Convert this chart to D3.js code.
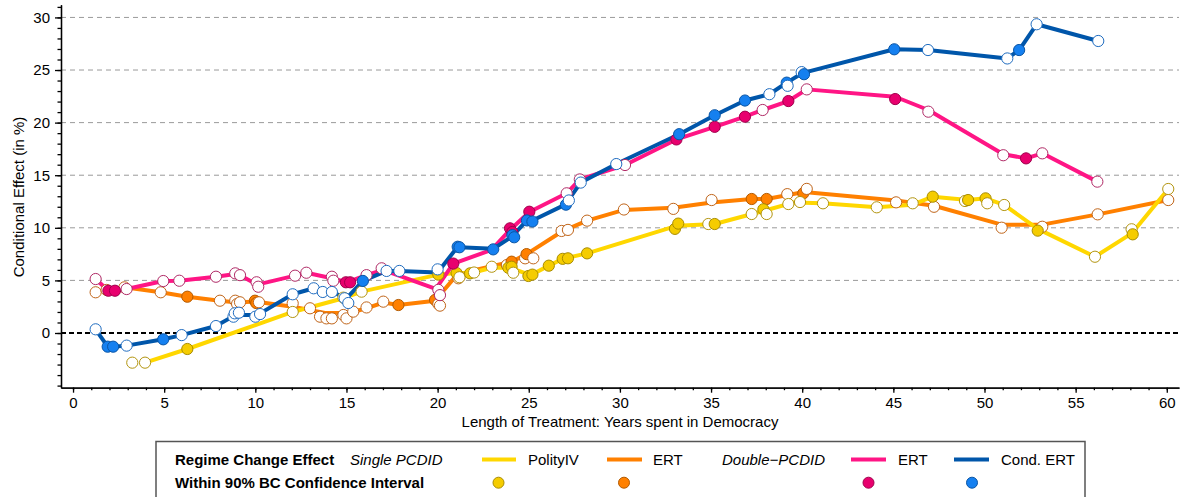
<!DOCTYPE html>
<html><head><meta charset="utf-8">
<script src="https://cdn.jsdelivr.net/npm/d3@7"></script>
<style>
body{margin:0;background:#fff;}
svg{font-family:"Liberation Sans",Arial,Helvetica,sans-serif;}
</style></head><body>
<svg id="c" width="1185" height="497"></svg>
<script>
// ---------- DATA ----------
const xTicks = [0,5,10,15,20,25,30,35,40,45,50,55,60];
const yTicks = [0,5,10,15,20,25,30];
const xLabel = "Length of Treatment: Years spent in Democracy";
const yLabel = "Conditional Effect (in %)";

// PolityIV (Single PCDID) : line vertices and estimates [x, y, withinCI]
const polityLine = [[3.95,-2.82],[6.27,-1.52],[12.05,2.0],[14.88,3.33],[15.83,3.93],[20.04,5.55],[21.04,5.7],[21.85,5.7],[22.97,6.2],[24.0,6.2],[25.1,5.5],[26.1,6.4],[26.86,7.05],[28.2,7.57],[33.15,10.2],[35.2,10.36],[37.87,11.6],[39.5,12.4],[41.12,12.33],[44.09,11.95],[46.06,12.2],[47.16,12.96],[49.1,12.64],[50.06,12.8],[51.08,12.17],[52.92,9.9],[56.06,7.25],[58.1,9.5],[60.08,13.69]];
const polityPts = [[3.25,-2.82,0],[3.95,-2.82,0],[6.27,-1.52,1],[12.05,2.0,0],[14.83,3.36,0],[15.83,3.93,0],[20.04,5.55,1],[21.04,5.7,1],[21.2,5.3,0],[21.78,5.67,1],[22.0,5.75,0],[22.97,6.3,0],[23.88,6.2,1],[24.06,6.3,1],[24.15,5.73,0],[24.98,5.42,1],[25.2,5.55,1],[26.1,6.4,1],[26.86,7.05,1],[27.15,7.1,1],[28.2,7.57,1],[33.02,9.9,1],[33.2,10.4,1],[34.85,10.36,0],[35.2,10.36,1],[37.23,11.31,0],[37.87,11.76,1],[38.05,11.31,0],[39.24,12.26,0],[39.88,12.45,0],[41.14,12.33,0],[44.09,11.95,0],[46.06,12.33,0],[47.16,12.96,1],[48.93,12.55,0],[49.1,12.64,1],[50.06,12.8,1],[50.15,12.33,0],[51.08,12.17,0],[52.92,9.73,1],[56.06,7.25,0],[58.07,9.86,0],[58.13,9.38,1],[60.08,13.69,0]];

// ERT (Single PCDID)
const ertSLine = [[1.84,4.1],[2.82,4.34],[4.81,3.87],[6.27,3.45],[8.06,3.07],[9.0,2.9],[9.98,3.0],[12.05,2.5],[13.82,1.9],[15.2,1.93],[16.1,2.35],[17.02,2.9],[17.85,2.66],[19.86,3.07],[21.04,5.5],[22.3,6.1],[24.06,6.78],[24.88,7.5],[26.8,9.63],[28.2,10.68],[30.22,11.7],[32.93,11.9],[35.03,12.4],[37.23,12.74],[38.05,12.74],[40.1,13.4],[45.15,12.6],[47.23,12.1],[50.94,10.3],[53.17,10.3],[56.21,11.28],[60.08,12.64]];
const ertSPts = [[1.24,3.87,0],[1.84,4.09,0],[2.82,4.34,0],[4.81,3.87,0],[6.27,3.45,1],[8.06,3.07,0],[8.9,3.07,0],[9.0,2.76,0],[9.16,2.92,0],[9.98,3.07,1],[10.05,2.85,1],[10.2,2.92,0],[12.05,2.82,0],[13.0,2.35,0],[13.55,1.55,0],[13.9,1.39,0],[14.2,1.39,0],[14.83,1.71,0],[15.0,1.39,0],[15.37,2.03,0],[16.1,2.43,0],[17.02,2.98,0],[17.85,2.66,1],[19.86,3.14,1],[20.04,2.76,0],[20.13,2.6,0],[21.14,5.2,0],[21.2,5.35,0],[23.8,6.46,0],[24.06,6.78,1],[24.8,7.1,0],[24.88,7.5,1],[25.25,7.1,0],[26.8,9.7,0],[27.15,9.8,0],[28.2,10.68,0],[30.22,11.74,0],[32.93,11.8,0],[35.03,12.64,0],[37.23,12.74,1],[38.05,12.74,1],[39.18,13.2,0],[40.06,13.28,1],[40.25,13.7,0],[45.15,12.42,0],[47.23,12.0,0],[50.94,10.01,0],[53.17,10.1,0],[56.21,11.28,0],[60.08,12.64,0]];

// ERT (Double-PCDID)
const ertDLine = [[1.24,5.13],[1.94,4.02],[2.3,4.02],[2.94,4.18],[4.95,4.94],[5.83,4.97],[7.84,5.35],[8.9,5.6],[9.16,5.5],[10.1,4.6],[12.18,5.45],[12.8,5.73],[14.2,5.2],[15.0,4.82],[16.1,5.5],[17.0,6.0],[19.9,4.2],[20.86,6.6],[22.96,7.9],[23.97,9.8],[25.03,11.5],[27.08,13.28],[27.8,14.6],[30.28,15.97],[33.1,18.4],[35.2,19.6],[36.86,20.56],[37.83,21.2],[39.24,22.05],[40.25,23.16],[45.1,22.46],[46.92,21.2],[51.03,17.0],[52.28,16.6],[53.17,17.08],[56.19,14.39]];
const ertDPts = [[1.24,5.13,0],[1.94,4.02,1],[2.3,4.02,1],[2.94,4.18,0],[4.95,4.94,0],[5.83,4.97,0],[7.84,5.35,0],[8.9,5.67,0],[9.16,5.5,0],[10.07,4.82,0],[10.16,4.4,0],[12.18,5.45,0],[12.8,5.73,0],[14.2,5.35,0],[14.28,4.97,0],[14.97,4.82,1],[15.2,4.82,1],[16.1,5.5,0],[16.93,6.15,0],[20.04,4.1,0],[20.13,3.6,0],[20.86,6.6,1],[23.97,9.95,1],[24.1,9.6,1],[25.03,11.53,1],[27.08,13.28,0],[27.8,14.6,0],[30.28,15.97,0],[33.1,18.4,1],[35.2,19.6,1],[36.86,20.56,1],[37.83,21.2,0],[39.24,22.05,1],[40.25,23.16,0],[45.1,22.24,1],[46.92,21.04,0],[51.03,16.9,0],[52.28,16.6,1],[53.17,17.08,0],[56.19,14.39,0]];

// Cond. ERT (Double-PCDID)
const condLine = [[1.24,0.35],[1.9,-1.3],[2.2,-1.3],[2.94,-1.2],[4.95,-0.6],[5.96,-0.2],[7.84,0.66],[8.9,1.7],[10.1,1.7],[12.05,3.68],[13.2,4.25],[14.2,3.9],[15.0,3.3],[15.9,4.95],[17.2,5.9],[17.9,5.9],[20.0,5.75],[21.1,8.2],[21.2,8.15],[23.05,8.0],[24.1,9.2],[24.9,10.7],[25.2,10.7],[27.0,12.2],[27.85,14.3],[29.8,16.06],[33.25,18.9],[35.2,20.7],[36.86,22.1],[38.2,22.7],[39.15,23.8],[40.0,24.7],[45.05,26.97],[46.9,26.9],[51.25,26.1],[51.9,26.9],[52.86,29.35],[56.24,27.76]];
const condPts = [[1.24,0.35,0],[1.9,-1.3,1],[2.2,-1.3,1],[2.94,-1.2,0],[4.95,-0.6,1],[5.96,-0.2,0],[7.84,0.66,0],[8.8,1.55,0],[8.87,1.87,0],[9.1,1.93,0],[10.0,1.55,0],[10.26,1.8,0],[12.05,3.68,0],[13.2,4.25,0],[13.7,3.9,0],[14.2,3.9,0],[14.9,3.3,0],[15.1,2.85,0],[15.9,4.95,1],[17.2,5.9,0],[17.9,5.9,0],[20.0,6.05,0],[21.1,8.2,1],[21.2,8.15,1],[23.05,7.95,1],[24.1,9.3,1],[24.2,9.1,1],[24.9,10.7,1],[25.2,10.6,1],[27.04,12.2,1],[27.2,12.6,0],[27.85,14.3,0],[29.8,16.06,0],[33.25,18.9,1],[35.2,20.7,1],[36.86,22.1,1],[38.2,22.7,0],[39.15,23.8,1],[39.2,23.5,0],[39.97,24.8,0],[40.1,24.6,1],[45.05,26.97,1],[46.9,26.9,0],[51.25,26.1,0],[51.9,26.9,1],[52.86,29.35,0],[56.24,27.76,0]];

// ---------- STYLE ----------
const series = [
  {name:"ERT", group:"single", line:ertSLine, pts:ertSPts, lc:"#FF8000", fill:"#FF8000", fstroke:"#B35A00", ostroke:"#C0651A"},
  {name:"PolityIV", group:"single", line:polityLine, pts:polityPts, lc:"#FFD700", fill:"#F5CC00", fstroke:"#A88C00", ostroke:"#B39510"},
  {name:"ERT", group:"double", line:ertDLine, pts:ertDPts, lc:"#FF1585", fill:"#E8006E", fstroke:"#A0004C", ostroke:"#B02A66"},
  {name:"Cond. ERT", group:"double", line:condLine, pts:condPts, lc:"#0056AA", fill:"#1580F0", fstroke:"#0A55A5", ostroke:"#1F6CC0"}
];

const svg = d3.select("#c");
const x = d3.scaleLinear().domain([-0.66, 60.67]).range([61, 1179]);
const y = d3.scaleLinear().domain([-5.2, 31.2]).range([387.7, 4.8]);

// grid
svg.append("g").selectAll("line").data(yTicks.filter(d=>d>0)).join("line")
  .attr("x1",61).attr("x2",1179).attr("y1",d=>y(d)).attr("y2",d=>y(d))
  .attr("stroke","#9a9a9a").attr("stroke-width",1).attr("stroke-dasharray","5,4");
svg.append("line").attr("x1",61).attr("x2",1179).attr("y1",y(0)).attr("y2",y(0))
  .attr("stroke","#000").attr("stroke-width",2).attr("stroke-dasharray","5,3");

// axes
const fs = "15px";
svg.append("g").attr("transform","translate(0,387.7)")
  .call(d3.axisBottom(x).tickValues(xTicks).tickSize(5).tickPadding(5).tickSizeOuter(0));
svg.append("g").attr("transform","translate(0,387.7)")
  .call(d3.axisBottom(x).tickValues(d3.range(0,61,1)).tickSize(2.5).tickFormat("").tickSizeOuter(0));
svg.append("g").attr("transform","translate(61,0)")
  .call(d3.axisLeft(y).tickValues(yTicks).tickSize(6).tickPadding(5).tickSizeOuter(0));
svg.append("g").attr("transform","translate(61,0)")
  .call(d3.axisLeft(y).tickValues(d3.range(-5,32,1)).tickSize(3.5).tickFormat("").tickSizeOuter(0));
svg.selectAll(".tick text").attr("font-size",fs).attr("fill","#000").attr("font-family","Liberation Sans, Arial, sans-serif");
svg.selectAll(".domain, .tick line").attr("stroke","#000").attr("stroke-width",1.3);

svg.append("text").attr("x",620).attr("y",427).attr("text-anchor","middle").attr("font-size",fs).text(xLabel);
svg.append("text").attr("transform","translate(23.5,197) rotate(-90)").attr("text-anchor","middle").attr("font-size",fs).text(yLabel);

// lines
const lg = d3.line().x(d=>x(d[0])).y(d=>y(d[1]));
series.forEach(s=>{
  svg.append("path").datum(s.line).attr("d",lg).attr("fill","none")
    .attr("stroke",s.lc).attr("stroke-width",4).attr("stroke-linejoin","round").attr("stroke-linecap","round");
});
// points
series.forEach(s=>{
  svg.append("g").selectAll("circle").data(s.pts).join("circle")
    .attr("cx",d=>x(d[0])).attr("cy",d=>y(d[1])).attr("r",5.6)
    .attr("fill",d=>d[2]?s.fill:"#fff")
    .attr("stroke",d=>d[2]?s.fstroke:s.ostroke).attr("stroke-width",1);
});

// legend
const L = svg.append("g");
L.append("rect").attr("x",156).attr("y",441.5).attr("width",929).attr("height",70)
  .attr("fill","#fff").attr("stroke","#555").attr("stroke-width",1.5);
const r1 = 465, r2 = 488;
const lfs = "15px";
L.append("text").attr("x",175).attr("y",r1).attr("font-size",lfs).attr("font-weight","bold").text("Regime Change Effect");
L.append("text").attr("x",175).attr("y",r2).attr("font-size",lfs).attr("font-weight","bold").text("Within 90% BC Confidence Interval");
L.append("text").attr("x",350).attr("y",r1).attr("font-size",lfs).attr("font-style","italic").text("Single PCDID");
L.append("text").attr("x",722).attr("y",r1).attr("font-size",lfs).attr("font-style","italic").text("Double\u2212PCDID");
const legItems = [
  {s:series[1], x0:482, x1:516, tx:528, dx:498.5},
  {s:series[0], x0:607, x1:642, tx:653, dx:624},
  {s:series[2], x0:851, x1:886, tx:898, dx:868.5},
  {s:series[3], x0:954, x1:989, tx:1001, dx:972}
];
legItems.forEach(it=>{
  L.append("line").attr("x1",it.x0).attr("x2",it.x1).attr("y1",459.5).attr("y2",459.5)
    .attr("stroke",it.s.lc).attr("stroke-width",4);
  L.append("text").attr("x",it.tx).attr("y",r1).attr("font-size",lfs).text(it.s.name);
  L.append("circle").attr("cx",it.dx).attr("cy",482.7).attr("r",5.5)
    .attr("fill",it.s.fill).attr("stroke",it.s.fstroke).attr("stroke-width",1);
});
</script>
</body></html>
